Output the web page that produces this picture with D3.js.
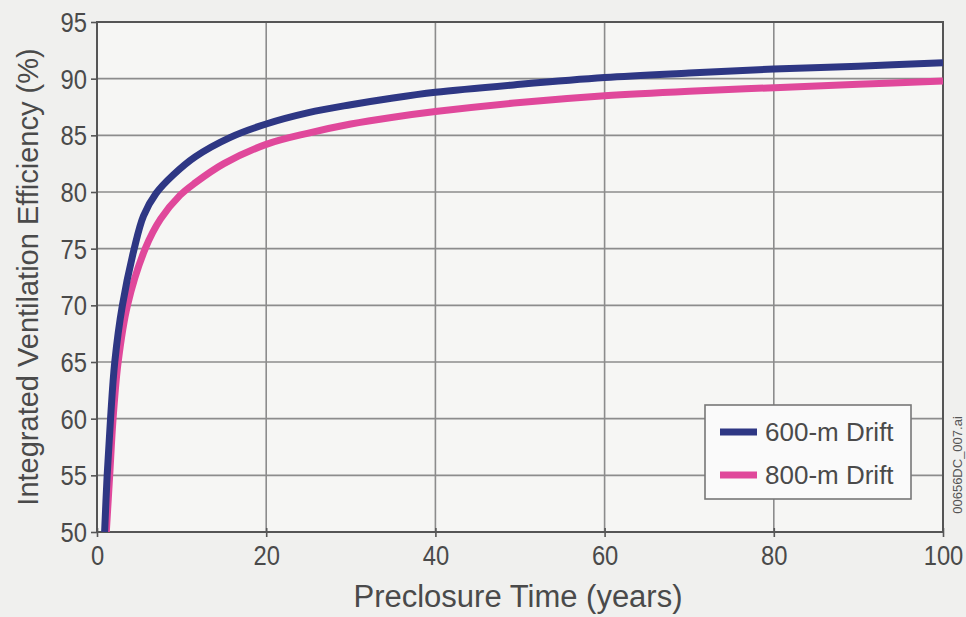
<!DOCTYPE html>
<html>
<head>
<meta charset="utf-8">
<script src="https://cdn.jsdelivr.net/npm/d3@7"></script>
<style>
  html, body { margin: 0; padding: 0; background: #f0f0ee; }
  svg { display: block; }
</style>
</head>
<body>
<svg id="chart" width="966" height="617"></svg>
<script>
// ---- Data ----
const driftNames = ["600-m Drift", "800-m Drift"];
const driftColors = ["#2e3784", "#e0489b"];

const time600 = [0.9, 1.2, 1.6, 2.1, 3.0, 4.4, 5.5, 7.0, 9, 11.6, 15.7, 20, 25, 30, 35, 40, 50, 60, 70, 80, 90, 100];
const eff600  = [50, 55, 60, 65, 70, 75, 77.9, 79.9, 81.5, 83.1, 84.8, 86.0, 87.0, 87.7, 88.3, 88.8, 89.5, 90.1, 90.5, 90.85, 91.1, 91.4];

const time800 = [1.1, 1.5, 1.9, 2.5, 3.6, 5.7, 7.5, 9.8, 11.6, 15, 20, 25, 30, 35, 40, 50, 60, 70, 80, 90, 100];
const eff800  = [50, 55, 60, 65, 70, 75, 77.6, 79.7, 80.8, 82.5, 84.2, 85.2, 86.0, 86.6, 87.1, 87.9, 88.5, 88.9, 89.2, 89.5, 89.8];

const xTicks = [0, 20, 40, 60, 80, 100];
const yTicks = [50, 55, 60, 65, 70, 75, 80, 85, 90, 95];

const xTitle = "Preclosure Time (years)";
const yTitle = "Integrated Ventilation Efficiency (%)";
const fileTag = "00656DC_007.ai";

// ---- Layout ----
const svg = d3.select("#chart");
const margin = { left: 97, right: 23, top: 22, bottom: 85 };
const W = 966, H = 617;
const x = d3.scaleLinear().domain([0, 100]).range([margin.left, W - margin.right]);
const y = d3.scaleLinear().domain([50, 95]).range([H - margin.bottom, margin.top]);

const textColor = "#4a4a4a";
const font = "'Liberation Sans', Arial, Helvetica, sans-serif";

// plot background
svg.append("rect")
  .attr("x", x(0)).attr("y", y(95))
  .attr("width", x(100) - x(0)).attr("height", y(50) - y(95))
  .attr("fill", "#f6f6f4");

// gridlines
svg.append("g").selectAll("line").data(yTicks.filter(d => d > 50 && d < 95)).join("line")
  .attr("x1", x(0)).attr("x2", x(100))
  .attr("y1", d => y(d)).attr("y2", d => y(d))
  .attr("stroke", "#8c8c8c").attr("stroke-width", 1.6);
svg.append("g").selectAll("line").data(xTicks.filter(d => d > 0 && d < 100)).join("line")
  .attr("x1", d => x(d)).attr("x2", d => x(d))
  .attr("y1", y(95)).attr("y2", y(50))
  .attr("stroke", "#8c8c8c").attr("stroke-width", 1.6);

// axes
const xAxis = d3.axisBottom(x).tickValues(xTicks).tickSize(6).tickPadding(4).tickFormat(d3.format("d"));
const yAxis = d3.axisLeft(y).tickValues(yTicks).tickSize(6).tickPadding(3).tickFormat(d3.format("d"));

const gx = svg.append("g").attr("transform", `translate(0,${y(50)})`).call(xAxis);
const gy = svg.append("g").attr("transform", `translate(${x(0)},0)`).call(yAxis);
[gx, gy].forEach(g => {
  g.select(".domain").remove();
  g.selectAll(".tick line").attr("stroke", "#555").attr("stroke-width", 1.6);
  g.selectAll(".tick text").attr("fill", textColor)
    .style("font-family", font).style("font-size", "27px");
});
gx.selectAll(".tick line").attr("y1", -4).attr("y2", 5);
gx.selectAll(".tick text").attr("y", 0).attr("dy", 0)
  .attr("transform", "translate(0,33) scale(0.88,1)");
gy.selectAll(".tick text").attr("x", 0).attr("dy", "0.35em")
  .attr("transform", "translate(-10,0) scale(0.88,1)");

// frame
svg.append("rect")
  .attr("x", x(0)).attr("y", y(95))
  .attr("width", x(100) - x(0)).attr("height", y(50) - y(95))
  .attr("fill", "none").attr("stroke", "#555").attr("stroke-width", 2);

// curves
svg.append("clipPath").attr("id", "plotclip").append("rect")
  .attr("x", x(0)).attr("y", y(95) - 5)
  .attr("width", x(100) - x(0)).attr("height", y(50) - y(95) + 5);

const series = [
  { t: time800, v: eff800, color: driftColors[1] },
  { t: time600, v: eff600, color: driftColors[0] }
];
const line = d3.line().x(d => x(d[0])).y(d => y(d[1])).curve(d3.curveCatmullRom.alpha(0.5));
const gLines = svg.append("g").attr("clip-path", "url(#plotclip)");
series.forEach(s => {
  gLines.append("path")
    .datum(s.t.map((t, i) => [t, s.v[i]]))
    .attr("d", line)
    .attr("fill", "none")
    .attr("stroke", s.color)
    .attr("stroke-width", 7)
    .attr("stroke-linejoin", "round");
});

// legend
const lg = svg.append("g");
lg.append("rect").attr("x", 705).attr("y", 405).attr("width", 206).attr("height", 94)
  .attr("fill", "#fafafa").attr("stroke", "#777").attr("stroke-width", 1.6);
driftNames.forEach((name, i) => {
  const yy = 432 + i * 43;
  lg.append("line").attr("x1", 720).attr("x2", 757).attr("y1", yy).attr("y2", yy)
    .attr("stroke", driftColors[i]).attr("stroke-width", 7);
  lg.append("text").attr("x", 765).attr("y", yy).attr("dy", "0.36em")
    .attr("fill", textColor).style("font-family", font).style("font-size", "26px")
    .text(name);
});

// titles
svg.append("text")
  .attr("x", (x(0) + x(100)) / 2 - 2).attr("y", 607)
  .attr("text-anchor", "middle").attr("fill", textColor)
  .style("font-family", font).style("font-size", "31px")
  .text(xTitle);
svg.append("text")
  .attr("transform", `translate(38,${(y(50) + y(95)) / 2}) rotate(-90)`)
  .attr("text-anchor", "middle").attr("fill", textColor)
  .style("font-family", font).style("font-size", "29px")
  .text(yTitle);

// file tag
svg.append("text")
  .attr("transform", `translate(962,465) rotate(-90)`)
  .attr("text-anchor", "middle").attr("fill", "#555")
  .style("font-family", font).style("font-size", "13px")
  .text(fileTag);
</script>
</body>
</html>
